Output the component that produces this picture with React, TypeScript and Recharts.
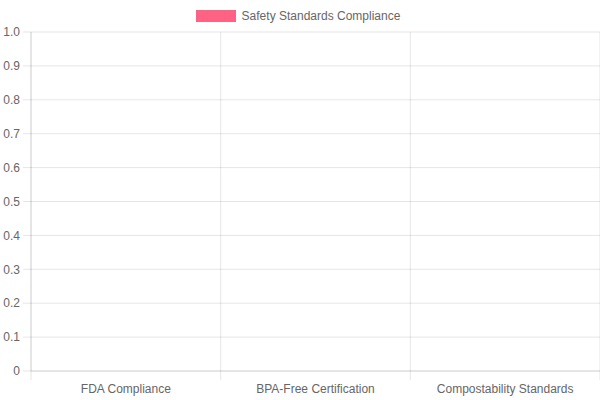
import React from "react";
import { BarChart, Bar, XAxis, YAxis, CartesianGrid, Legend } from "recharts";

const categories = ["FDA Compliance", "BPA-Free Certification", "Compostability Standards"];
const complianceValues = [0, 0, 0];
const yTicks = [0, 0.1, 0.2, 0.3, 0.4, 0.5, 0.6, 0.7, 0.8, 0.9, 1.0];
const seriesName = "Safety Standards Compliance";

const data = categories.map((c, i) => ({ name: c, value: complianceValues[i] }));

const FONT = "'Liberation Sans', Arial, Helvetica, sans-serif";
const GRID = "rgba(0,0,0,0.1)";
const TEXT = "#666";

const XTick = (props: any) => {
  const { x, y, payload, index, visibleTicksCount } = props;
  const band = props.bandSize ?? 0;
  return (
    <g>
      <line x1={x - band / 2} x2={x - band / 2} y1={y - 8} y2={y + 1} stroke={GRID} />
      {index === visibleTicksCount - 1 && (
        <line x1={x + band / 2} x2={x + band / 2} y1={y - 8} y2={y + 1} stroke={GRID} />
      )}
      <text x={x} y={y + 14} textAnchor="middle" fill={TEXT} fontSize={12} fontFamily={FONT}>
        {payload.value}
      </text>
    </g>
  );
};

const LegendContent = () => (
  <div style={{ display: "flex", justifyContent: "center", alignItems: "center", height: 32, marginLeft: -4 }}>
    <svg width={46} height={12} style={{ display: "block" }}>
      <rect x={0} y={0} width={40} height={12} fill="rgb(255,99,132)" />
    </svg>
    <span style={{ fontFamily: FONT, fontSize: 12, color: TEXT }}>{seriesName}</span>
  </div>
);

export default function App() {
  const W = 600;
  const H = 400;
  const left = 31;
  const plotW = W - left;
  return (
    <div style={{ position: "absolute", left: 0, top: 0, width: W, height: H, background: "#fff" }}>
      <BarChart width={W} height={H} data={data} margin={{ top: 0, right: 0, bottom: 0, left: 0 }} barCategoryGap="10%">
        <CartesianGrid
          stroke={GRID}
          verticalCoordinatesGenerator={({ offset }: any) =>
            categories.map((_, i) => offset.left + (offset.width * i) / categories.length).concat([offset.left + offset.width])
          }
        />
        <Legend verticalAlign="top" align="center" height={32} content={<LegendContent />} wrapperStyle={{ top: 0, left: 0, width: W }} />
        <XAxis
          dataKey="name"
          height={29}
          axisLine={{ stroke: GRID }}
          tickLine={false}
          tickSize={8}
          tickMargin={0}
          interval={0}
          tick={(p: any) => <XTick {...p} bandSize={plotW / categories.length} />}
        />
        <YAxis
          width={left}
          domain={[0, 1]}
          ticks={yTicks}
          interval={0}
          axisLine={{ stroke: GRID }}
          tickLine={{ stroke: GRID }}
          tickSize={8}
          tickMargin={3}
          tick={{ fill: TEXT, fontSize: 12, fontFamily: FONT }}
          tickFormatter={(v: number) => (v === 0 ? "0" : v.toFixed(1))}
        />
        <Bar dataKey="value" name={seriesName} fill="rgba(255,99,132,0.5)" stroke="rgb(255,99,132)" isAnimationActive={false} />
      </BarChart>
    </div>
  );
}
